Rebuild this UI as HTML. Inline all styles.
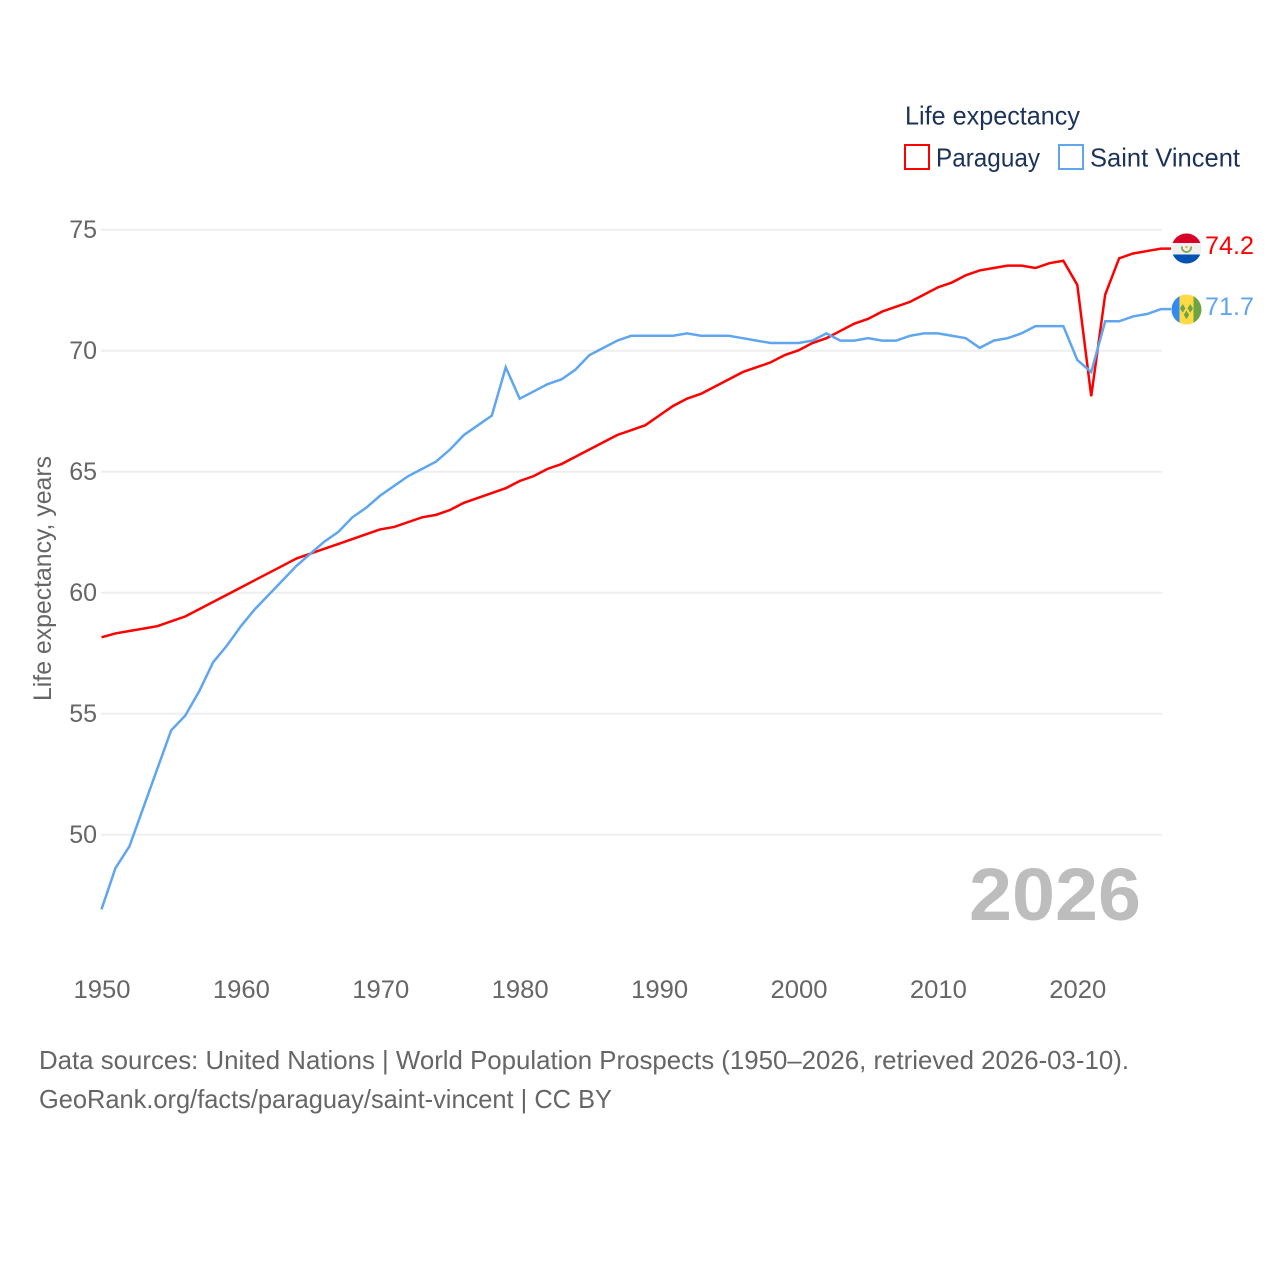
<!DOCTYPE html>
<html lang="en">
<head>
<meta charset="utf-8">
<title>Life expectancy: Paraguay and Saint Vincent</title>
<style>
html,body{margin:0;padding:0;background:#fff;width:1280px;height:1280px;overflow:hidden}
svg{display:block}
text{font-family:"Liberation Sans","DejaVu Sans",sans-serif}
</style>
</head>
<body>
<svg id="chart" xmlns="http://www.w3.org/2000/svg" width="1280" height="1280" viewBox="0 0 1280 1280">
  <g id="grid"></g>
  <g id="yticks"></g>
  <g id="xticks"></g>
  <text transform="translate(51,701) rotate(-90)" font-size="25" fill="#666" textLength="245" lengthAdjust="spacingAndGlyphs">Life expectancy, years</text>
  <text x="969" y="920" font-size="74" font-weight="700" fill="#bdbdbd" textLength="172" lengthAdjust="spacingAndGlyphs">2026</text>
  <g id="series"></g>

  <g>
    <text x="905" y="124.5" font-size="26" fill="#1b3358" textLength="175" lengthAdjust="spacingAndGlyphs">Life expectancy</text>
    <g>
      <rect x="905" y="145" width="24" height="24" fill="none" stroke="#ff0000" stroke-width="2"/>
      <text x="936" y="166.5" font-size="26" fill="#1b3358" textLength="104" lengthAdjust="spacingAndGlyphs">Paraguay</text>
    </g>
    <g>
      <rect x="1059" y="145" width="24" height="24" fill="none" stroke="#5fa6ee" stroke-width="2"/>
      <text x="1090" y="166.5" font-size="26" fill="#1b3358" textLength="150" lengthAdjust="spacingAndGlyphs">Saint Vincent</text>
    </g>
  </g>

  <defs>
    <clipPath id="clip-py"><circle cx="1186.5" cy="248.5" r="15"/></clipPath>
    <clipPath id="clip-vc"><circle cx="1186.5" cy="309.5" r="15"/></clipPath>
  </defs>
  <g clip-path="url(#clip-py)">
    <rect x="1171" y="233" width="31" height="31" fill="#f0f0f0"/>
    <rect x="1171" y="233" width="31" height="10" fill="#d80027"/>
    <rect x="1171" y="254.5" width="31" height="10" fill="#0052b4"/>
    <path d="M1182 246.5a4.6 4.6 0 1 0 9 0" fill="none" stroke="#7fa84e" stroke-width="1.8"/>
    <circle cx="1186.5" cy="247" r="1.3" fill="#f0b040"/>
  </g>
  <g clip-path="url(#clip-vc)">
    <rect x="1171" y="294" width="9" height="31" fill="#338af3"/>
    <rect x="1179.5" y="294" width="14.5" height="31" fill="#ffda44"/>
    <rect x="1193.5" y="294" width="9" height="31" fill="#6da544"/>
    <path d="M1182.7 304l2.7 4.4-2.7 4.4-2.7-4.4zM1190.3 304l2.7 4.4-2.7 4.4-2.7-4.4zM1186.5 310.5l2.7 4.4-2.7 4.4-2.7-4.4z" fill="#6da544"/>
  </g>
  <g id="endlabels"></g>

  <text x="39" y="1069" font-size="26" fill="#666" textLength="1090" lengthAdjust="spacingAndGlyphs">Data sources: United Nations | World Population Prospects (1950–2026, retrieved 2026-03-10).</text>
  <text x="39" y="1108" font-size="26" fill="#666" textLength="573" lengthAdjust="spacingAndGlyphs">GeoRank.org/facts/paraguay/saint-vincent | CC BY</text>
</svg>
<script>
const startYear = 1950;
const yTickValues = [50, 55, 60, 65, 70, 75];
const xTickValues = [1950, 1960, 1970, 1980, 1990, 2000, 2010, 2020];
const paraguayValues = [
  58.14,58.3,58.4,58.5,58.6,58.8,59.0,59.3,59.6,59.9,
  60.2,60.5,60.8,61.1,61.4,61.6,61.8,62.0,62.2,62.4,
  62.6,62.7,62.9,63.1,63.2,63.4,63.7,63.9,64.1,64.3,
  64.6,64.8,65.1,65.3,65.6,65.9,66.2,66.5,66.7,66.9,
  67.3,67.7,68.0,68.2,68.5,68.8,69.1,69.3,69.5,69.8,
  70.0,70.3,70.5,70.8,71.1,71.3,71.6,71.8,72.0,72.3,
  72.6,72.8,73.1,73.3,73.4,73.5,73.5,73.4,73.6,73.7,
  72.7,68.1,72.3,73.8,74.0,74.1,74.2
];
const saintVincentValues = [
  46.9,48.6,49.5,51.1,52.7,54.3,54.9,55.9,57.1,57.8,
  58.6,59.3,59.9,60.5,61.1,61.6,62.1,62.5,63.1,63.5,
  64.0,64.4,64.8,65.1,65.4,65.9,66.5,66.9,67.3,69.3,
  68.0,68.3,68.6,68.8,69.2,69.8,70.1,70.4,70.6,70.6,
  70.6,70.6,70.7,70.6,70.6,70.6,70.5,70.4,70.3,70.3,
  70.3,70.4,70.7,70.4,70.4,70.5,70.4,70.4,70.6,70.7,
  70.7,70.6,70.5,70.1,70.4,70.5,70.7,71.0,71.0,71.0,
  69.6,69.1,71.2,71.2,71.4,71.5,71.7
];
const paraguayLabel = "74.2";
const saintVincentLabel = "71.7";

const NS = "http://www.w3.org/2000/svg";
function xScale(year) { return 101.5 + (year - 1950) * 13.94; }
function yScale(value) { return 834.3 - (value - 50) * 24.2; }
function gridY(value) { return 834.8 - (value - 50) * 24.2; }
function make(tag, attrs, parentId, content) {
  const el = document.createElementNS(NS, tag);
  for (const k in attrs) el.setAttribute(k, attrs[k]);
  if (content !== undefined) el.textContent = content;
  document.getElementById(parentId).appendChild(el);
  return el;
}

yTickValues.forEach(function (v) {
  const line = make("line", {x1: 101, x2: 1162, y1: gridY(v), y2: gridY(v), stroke: "#eeeeee", "stroke-width": 2}, "grid");
  
  
  const label = make("text", {x: 97, y: gridY(v) + 8, "text-anchor": "end", "font-size": 25, fill: "#666"}, "yticks", String(v));
  
  
});

xTickValues.forEach(function (yr) {
  const label = make("text", {x: xScale(yr) - 28, y: 998, "font-size": 25, fill: "#666", textLength: 57, lengthAdjust: "spacingAndGlyphs"}, "xticks", String(yr));
  
  
});

function linePath(values) {
  let d = "";
  values.forEach(function (v, i) {
    d += (i ? "L" : "M") + xScale(startYear + i).toFixed(2) + " " + yScale(v).toFixed(2);
  });
  d += "L1171 " + yScale(values[values.length - 1]).toFixed(2);
  return d;
}

const redLine = make("path", {d: linePath(paraguayValues), fill: "none", stroke: "#ff0000", "stroke-width": 2.5, "stroke-linejoin": "miter"}, "series");


const blueLine = make("path", {d: linePath(saintVincentValues), fill: "none", stroke: "#5fa6ee", "stroke-width": 2.5, "stroke-linejoin": "miter"}, "series");



const redEnd = make("text", {x: 1205, y: 254, "font-size": 25, fill: "#ff0000", textLength: 49, lengthAdjust: "spacingAndGlyphs"}, "endlabels", paraguayLabel);


const blueEnd = make("text", {x: 1205, y: 315, "font-size": 25, fill: "#5fa6ee", textLength: 49, lengthAdjust: "spacingAndGlyphs"}, "endlabels", saintVincentLabel);


</script>
</body>
</html>
